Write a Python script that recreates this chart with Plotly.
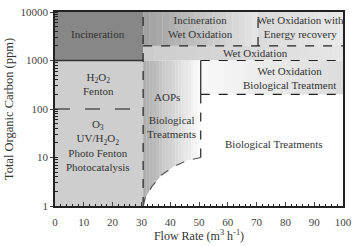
import math
import plotly.graph_objects as go

# ---- data ----
x_ticks = [0, 10, 20, 30, 40, 50, 60, 70, 80, 90, 100]
y_ticks = [1, 10, 100, 1000, 10000]

# region boundaries (flow rate, TOC)
x_a, x_b, x_c = 30.6, 50.6, 70.5
y_lo, y_wb, y_mid, y_wo, y_hi = 1, 200, 1000, 2000, 10000

# curved boundary of the biological-treatment area
curve_x = [30.6, 31.3, 33.6, 37.0, 41.1, 45.7, 50.6]
curve_y = [1.0, 1.44, 2.5, 4.36, 6.46, 8.6, 10.0]

labels = [
    ("Incineration", 15, 3500),
    ("H<sub>2</sub>O<sub>2</sub><br>Fenton", 15, 330),
    ("O<sub>3</sub><br>UV/H<sub>2</sub>O<sub>2</sub><br>Photo Fenton<br>Photocatalysis", 15, 18),
    ("Incineration<br>Wet Oxidation", 50.5, 4800),
    ("Wet Oxidation with<br>Energy recovery", 85.3, 4800),
    ("Wet Oxidation", 69.5, 1430),
    ("Wet Oxidation<br>Biological Treatment", 81.5, 430),
    ("AOPs", 38.8, 180),
    ("Biological<br>Treatments", 40.3, 42),
    ("Biological Treatments", 75.7, 19),
]

SERIF = "Liberation Serif"
fig = go.Figure()

def fill(xs, ys, color):
    fig.add_trace(go.Scatter(x=xs, y=ys, mode="lines", fill="toself", fillcolor=color,
                             line=dict(width=0), hoverinfo="skip", showlegend=False))

def shade(x0, x1, y0, y1, g_left, g_right, n=18):
    """horizontal grey shading built from thin flat strips"""
    w = (x1 - x0) / n
    for i in range(n):
        t = i / (n - 1)
        g = round(g_left + (g_right - g_left) * t)
        xa0 = x0 + i * w
        xa1 = min(x1, xa0 + w * 1.05)
        fill([xa0, xa1, xa1, xa0, xa0], [y0, y0, y1, y1, y0], f"rgb({g},{g},{g})")

# flat grey regions on the left
fill([0, x_a, x_a, 0, 0], [y_mid, y_mid, y_hi, y_hi, y_mid], "#878787")
fill([0, x_a, x_a, 0, 0], [y_lo, y_lo, y_mid, y_mid, y_lo], "#cecece")
# shaded regions
shade(x_a, x_c, y_wo, y_hi, 160, 228)
shade(x_c, 100, y_wo, y_hi, 218, 232)
shade(x_a, 100, y_mid, y_wo, 204, 230)
shade(x_b, 100, y_wb, y_mid, 248, 220)
shade(x_a, x_b, y_lo, y_mid, 172, 250)
# white area below the curve
fill(curve_x + [x_b, x_b], curve_y + [y_lo, y_lo], "white")

def line(xs, ys, dash="solid", color="#222", width=1.2):
    fig.add_trace(go.Scatter(x=xs, y=ys, mode="lines", hoverinfo="skip", showlegend=False,
                             line=dict(color=color, width=width, dash=dash)))

line([0, x_a], [y_mid, y_mid], color="#333", width=1.5)
line([0, x_a], [100, 100], dash="longdash", color="#555", width=1.5)
line([x_a, x_a], [y_lo, y_hi], dash="dash")
line([x_c, x_c], [y_wo, y_hi], dash="dash")
line([x_a, 100], [y_wo, y_wo], dash="dash")
line([x_b, 100], [y_mid, y_mid], dash="dash")
line([x_b, x_b], [y_wb, y_mid], color="#222")
line([x_b, 100], [y_wb, y_wb], dash="dash")
line([x_b, x_b], [10, y_wb], dash="dash")
line(curve_x, curve_y, dash="dash", color="#555")

for txt, x, y in labels:
    fig.add_annotation(x=x, y=math.log10(y), text=txt, showarrow=False,
                       font=dict(family=SERIF, size=11, color="#333"))

fig.update_xaxes(range=[0, 100], tickvals=x_ticks, ticks="inside", ticklen=4,
                 ticklabelstandoff=5, automargin=False,
                 minor=dict(dtick=2, ticks="inside", ticklen=2, tickcolor="#222"),
                 showline=True, mirror=True, linecolor="#222", linewidth=1.5,
                 showgrid=False, zeroline=False,
                 tickfont=dict(family=SERIF, size=11, color="#444"),
                 title=dict(text="Flow Rate (m<sup>3</sup> h<sup>-1</sup>)", standoff=5,
                            font=dict(family=SERIF, size=12, color="#333")))
fig.update_yaxes(type="log", range=[0, 4], tickvals=y_ticks, ticktext=[str(v) for v in y_ticks],
                 ticks="outside", ticklen=3, automargin=False,
                 minor=dict(ticks="inside", ticklen=3, tickcolor="#222", dtick="D1"),
                 showline=True, mirror=True, linecolor="#222", linewidth=1.5,
                 showgrid=False, zeroline=False,
                 tickfont=dict(family=SERIF, size=11, color="#444"),
                 title=dict(text="Total Organic Carbon (ppm)", standoff=4,
                            font=dict(family=SERIF, size=12.5, color="#333")))

fig.update_layout(width=356, height=246, margin=dict(l=55, r=13, t=12, b=40),
                  paper_bgcolor="white", plot_bgcolor="white", showlegend=False)

fig.write_html("out.html")
